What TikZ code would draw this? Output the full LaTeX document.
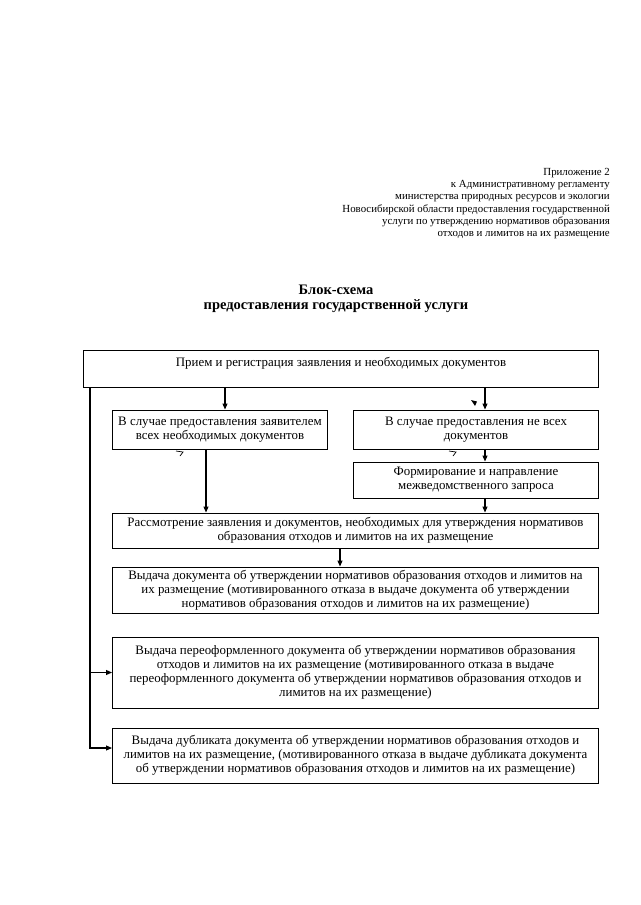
\documentclass[tikz,border=0pt]{standalone}
\usepackage{fontspec}
\setmainfont{Liberation Serif}
\usetikzlibrary{positioning,arrows.meta}

\begin{document}
\begin{tikzpicture}[
        x=1pt, y=-1pt,
        stepbox/.style={
            rectangle,
            draw,
            line width=1pt,
            align=center,
            inner sep=0pt,
            font=\fontsize{12.9}{14}\selectfont
        },
        arr/.style={
            line width=1.1pt,
            -{Triangle[length=6pt,width=5pt]}
        }
    ]
    \useasboundingbox (0,0) rectangle (640,905);

    % header and title
    \node[anchor=north east, align=right, inner sep=0pt, font=\fontsize{10.85}{12.3}\selectfont] (annex) at (610,168)
        {Приложение 2\\к Административному регламенту\\министерства природных ресурсов и экологии\\Новосибирской области предоставления государственной\\услуги по утверждению нормативов образования\\отходов и лимитов на их размещение};
    \node[align=center, inner sep=0pt, font=\bfseries\fontsize{14.5}{15}\selectfont] (title) at (336,298.5)
        {Блок-схема\\предоставления государственной услуги};

    % boxes
    \node[stepbox, minimum width=515pt, minimum height=37pt] (recv) at (341,368.5)
        {Прием и регистрация заявления и необходимых документов\\~};
    \node[stepbox, minimum width=215pt, minimum height=39pt] (full) at (220,429.5)
        {В случае предоставления заявителем\\всех необходимых документов};
    \node[stepbox, minimum width=245pt, minimum height=39pt] (part) at (476,429.5)
        {В случае предоставления не всех\\документов};
    \node[stepbox, minimum width=245pt, minimum height=36pt] (query) [below=12pt of part]
        {Формирование и направление\\межведомственного запроса};
    \node[stepbox, minimum width=486pt, minimum height=35pt] (review) at (355.5,530.5)
        {Рассмотрение заявления и документов, необходимых для утверждения нормативов\\образования отходов и лимитов на их размещение};
    \node[stepbox, minimum width=486pt, minimum height=46pt] (issue) [below=18pt of review]
        {Выдача документа об утверждении нормативов образования отходов и лимитов на\\их размещение (мотивированного отказа в выдаче документа об утверждении\\нормативов образования отходов и лимитов на их размещение)};
    \node[stepbox, minimum width=486pt, minimum height=71pt] (reissue) [below=23pt of issue]
        {Выдача переоформленного документа об утверждении нормативов образования\\отходов и лимитов на их размещение (мотивированного отказа в выдаче\\переоформленного документа об утверждении нормативов образования отходов и\\лимитов на их размещение)};
    \node[stepbox, minimum width=486pt, minimum height=55pt] (dupl) [below=19pt of reissue]
        {Выдача дубликата документа об утверждении нормативов образования отходов и\\лимитов на их размещение, (мотивированного отказа в выдаче дубликата документа\\об утверждении нормативов образования отходов и лимитов на их размещение)};

    % arrows
    \draw[arr] ([xshift=5pt]full.north |- recv.south) -- ([xshift=5pt]full.north);
    \draw[arr] ([xshift=9pt]part.north |- recv.south) -- ([xshift=9pt]part.north);
    \draw[arr] ([xshift=9pt]part.south) -- ([xshift=9pt]query.north);
    \draw[arr] ([xshift=-14pt]full.south) -- ([xshift=-14pt]full.south |- review.north);
    \draw[arr] ([xshift=9pt]query.south) -- ([xshift=9pt]query.south |- review.north);
    \draw[arr] ([xshift=-15.5pt]review.south) -- ([xshift=-15.5pt]issue.north);
    \coordinate (spine) at (90,387);
    \draw[arr] (spine) |- (reissue.west);
    \draw[arr] (spine) |- ([yshift=7.5pt]dupl.west);

    % stray marks
    \fill (471,400) -- (477,401.5) -- (475,406) -- cycle;
    \draw[line width=0.7pt] (176,451) -- (183,452) -- (180,456);
    \draw[line width=0.7pt] (449,451) -- (456,452) -- (453,456);
\end{tikzpicture}
\end{document}
